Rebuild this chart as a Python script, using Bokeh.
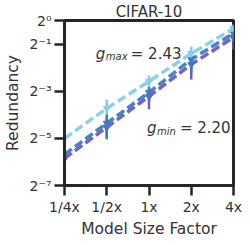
import numpy as np
from bokeh.plotting import figure
from bokeh.models import (ColumnDataSource, FixedTicker, Range1d, Label,
                          CustomJSTickFormatter)
from bokeh.embed import file_html
from bokeh.resources import INLINE

# ---- data ----
size_labels = ["1/4x", "1/2x", "1x", "2x", "4x"]
size_log2 = [-2, -1, 0, 1, 2]

light_mean = [0.0312, 0.0753, 0.167, 0.379, 0.790]
light_low = [0.0263, 0.0634, 0.1436, 0.346, 0.722]
light_high = [0.0406, 0.0981, 0.199, 0.467, 0.889]

mid_mean = [0.0195, 0.0487, 0.1207, 0.319, 0.683]
mid_low = [0.0112, 0.0304, 0.0928, 0.2176, 0.540]
mid_high = [0.0247, 0.0634, 0.1436, 0.369, 0.768]

purple_mean = [0.0173, 0.0433, 0.1073, 0.2753, 0.607]
purple_low = [0.0110, 0.03125, 0.0733, 0.177, 0.426]
purple_high = [0.0221, 0.0563, 0.132, 0.283, 0.722]

y_ticks = [2**-7, 2**-5, 2**-3, 2**-1, 1.0]

FONT = "DejaVu Sans"
DARK = "#262626"
TXT = "#333333"

p = figure(frame_width=169, frame_height=165, output_backend="svg",
           toolbar_location=None,
           y_axis_type="log", x_range=Range1d(-2, 2), y_range=Range1d(2**-7, 1),
           min_border_left=58, min_border_right=13, min_border_top=16,
           min_border_bottom=48)

p.title.text = "CIFAR-10"
p.title.align = "center"
p.title.text_font = FONT
p.title.text_font_size = "15px"
p.title.text_font_style = "normal"
p.title.text_color = TXT
p.title.standoff = 0
p.title.offset = 0

series = [
    ("#6a5acd", purple_mean, purple_low, purple_high),
    ("#3f7cbf", mid_mean, mid_low, mid_high),
    ("#87ceeb", light_mean, light_low, light_high),
]
for color, m, lo, hi in series:
    src = ColumnDataSource(dict(x=size_log2, m=m, lo=lo, hi=hi))
    p.line("x", "m", source=src, line_color=color, line_width=3.5,
           line_dash="9 4", line_alpha=0.95)
    p.segment(x0="x", y0="lo", x1="x", y1="hi", source=src,
              line_color=color, line_width=2.5)
    p.scatter("x", "m", source=src, marker="inverted_triangle", size=7,
              fill_color=color, line_color=color)

p.xgrid.visible = False
p.ygrid.visible = False
p.outline_line_color = DARK
p.outline_line_width = 3
p.outline_line_alpha = 1

p.xaxis.ticker = FixedTicker(ticks=size_log2)
p.xaxis.major_label_overrides = {k: v for k, v in zip(size_log2, size_labels)}
p.yaxis.ticker = FixedTicker(ticks=y_ticks, minor_ticks=[])
p.yaxis.formatter = CustomJSTickFormatter(code="""
const e = Math.round(Math.log2(tick));
const sup = {'0':'\u2070','1':'\u00b9','2':'\u00b2','3':'\u00b3','4':'\u2074','5':'\u2075','6':'\u2076','7':'\u2077','8':'\u2078','9':'\u2079','-':'\u207b'};
return '2' + String(e).split('').map(c => sup[c]).join('');
""")

for ax in (p.xaxis[0], p.yaxis[0]):
    ax.axis_line_color = DARK
    ax.axis_line_width = 3
    ax.major_tick_line_color = DARK
    ax.major_tick_line_width = 2.5
    ax.major_tick_out = 10
    ax.major_tick_in = 0
    ax.minor_tick_line_color = None
    ax.major_label_text_font = FONT
    ax.major_label_text_font_size = "14px"
    ax.major_label_text_color = TXT
    ax.axis_label_text_font = FONT
    ax.axis_label_text_font_size = "15.5px"
    ax.axis_label_text_font_style = "normal"
    ax.axis_label_text_color = TXT

p.xaxis.axis_label = "Model Size Factor"
p.yaxis.axis_label = "Redundancy"
p.xaxis.major_label_standoff = 3
p.xaxis.axis_label_standoff = 2
p.yaxis.major_label_standoff = 3
p.yaxis.axis_label_standoff = 5

def gtext(x, y, sub, rest, rest_offset):
    p.add_layout(Label(x=x, y=y, text="g", text_font=FONT, text_font_size="15px",
                       text_font_style="italic", text_color=TXT,
                       text_baseline="alphabetic"))
    p.add_layout(Label(x=x, y=y, x_offset=10, y_offset=-3, text=sub, text_font=FONT,
                       text_font_size="10px", text_font_style="italic",
                       text_color=TXT, text_baseline="alphabetic"))
    p.add_layout(Label(x=x, y=y, x_offset=rest_offset, text=rest,
                       text_font=FONT, text_font_size="15px", text_color=TXT,
                       text_baseline="alphabetic"))

gtext(-1.26, 2**-1.40, "max", "= 2.43", 35)
gtext(-0.05, 2**-4.57, "min", "= 2.20", 33)

open("out.html", "w").write(file_html(p, INLINE))
